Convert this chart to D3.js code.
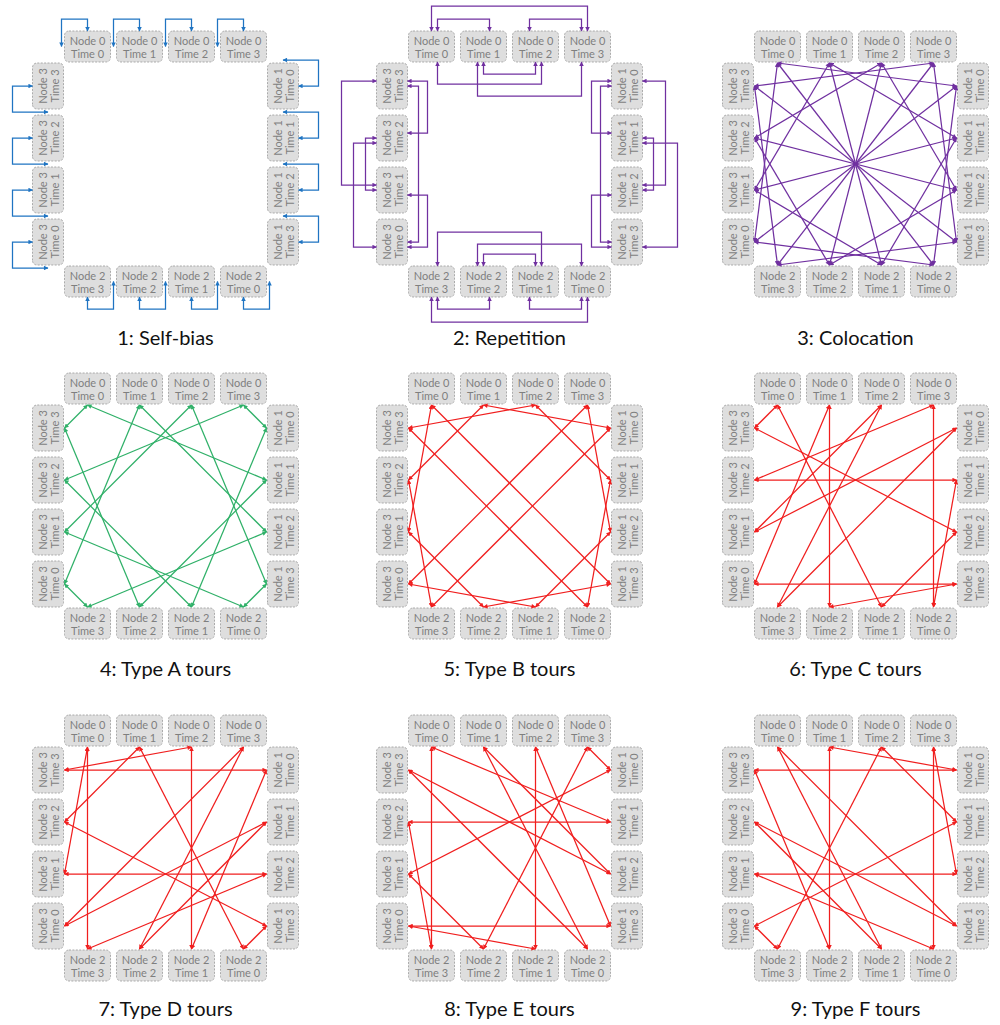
<!DOCTYPE html>
<html>
<head>
<meta charset="utf-8">
<script src="https://cdn.jsdelivr.net/npm/d3@7"></script>
<style>
  html, body { margin: 0; padding: 0; background: #ffffff; }
  svg { display: block; }
</style>
</head>
<body>
<svg id="chart" width="1000" height="1025"></svg>
<script>
// ---- data -------------------------------------------------------------
// Four nodes, four time slots. Node 0 sits on the top side, node 1 on the
// right, node 2 on the bottom and node 3 on the left; times run clockwise.
const nodeIds = [0, 1, 2, 3];
const timeIds = [0, 1, 2, 3];

const panelTitles = [
  "1: Self-bias", "2: Repetition", "3: Colocation",
  "4: Type A tours", "5: Type B tours", "6: Type C tours",
  "7: Type D tours", "8: Type E tours", "9: Type F tours"
];

// Edges are [fromNode, fromTime, toNode, toTime].
const selfBiasEdges = [
  [0,0,0,0],[0,1,0,1],[0,2,0,2],[0,3,0,3],
  [1,0,1,0],[1,1,1,1],[1,2,1,2],[1,3,1,3],
  [2,0,2,0],[2,1,2,1],[2,2,2,2],[2,3,2,3],
  [3,0,3,0],[3,1,3,1],[3,2,3,2],[3,3,3,3]
];

const repetitionEdges = [
  [0,0,0,1],[0,2,0,3],[0,0,0,3],[0,1,0,2],[0,0,0,2],[0,1,0,3],
  [1,0,1,1],[1,2,1,3],[1,0,1,3],[1,1,1,2],[1,0,1,2],[1,1,1,3],
  [2,0,2,1],[2,2,2,3],[2,0,2,3],[2,1,2,2],[2,0,2,2],[2,1,2,3],
  [3,0,3,1],[3,2,3,3],[3,0,3,3],[3,1,3,2],[3,0,3,2],[3,1,3,3]
];

const colocationEdges = [
  [0,0,1,0],[1,0,2,0],[2,0,3,0],[3,0,0,0],[0,0,2,0],[1,0,3,0],
  [0,1,1,1],[1,1,2,1],[2,1,3,1],[3,1,0,1],[0,1,2,1],[1,1,3,1],
  [0,2,1,2],[1,2,2,2],[2,2,3,2],[3,2,0,2],[0,2,2,2],[1,2,3,2],
  [0,3,1,3],[1,3,2,3],[2,3,3,3],[3,3,0,3],[0,3,2,3],[1,3,3,3]
];

const typeAEdges = [
  [0,0,1,1],[0,1,1,2],[0,2,1,3],[0,3,1,0],
  [1,0,2,1],[1,1,2,2],[1,2,2,3],[1,3,2,0],
  [2,0,3,1],[2,1,3,2],[2,2,3,3],[2,3,3,0],
  [3,0,0,1],[3,1,0,2],[3,2,0,3],[3,3,0,0]
];

const typeBEdges = [
  [0,0,3,1],[0,1,3,2],[0,2,3,3],[0,3,3,0],
  [3,0,2,1],[3,1,2,2],[3,2,2,3],[3,3,2,0],
  [2,0,1,1],[2,1,1,2],[2,2,1,3],[2,3,1,0],
  [1,0,0,1],[1,1,0,2],[1,2,0,3],[1,3,0,0]
];

const typeCEdges = [
  [0,0,2,1],[0,1,2,2],[0,2,2,3],[0,3,2,0],
  [2,0,1,1],[2,1,1,2],[2,2,1,3],[2,3,1,0],
  [1,0,3,1],[1,1,3,2],[1,2,3,3],[1,3,3,0],
  [3,0,0,1],[3,1,0,2],[3,2,0,3],[3,3,0,0]
];

const typeDEdges = [
  [0,0,3,1],[0,1,3,2],[0,2,3,3],[0,3,3,0],
  [3,0,1,1],[3,1,1,2],[3,2,1,3],[3,3,1,0],
  [1,0,2,1],[1,1,2,2],[1,2,2,3],[1,3,2,0],
  [2,0,0,1],[2,1,0,2],[2,2,0,3],[2,3,0,0]
];

const typeEEdges = [
  [0,0,1,1],[0,1,1,2],[0,2,1,3],[0,3,1,0],
  [1,0,3,1],[1,1,3,2],[1,2,3,3],[1,3,3,0],
  [3,0,2,1],[3,1,2,2],[3,2,2,3],[3,3,2,0],
  [2,0,0,1],[2,1,0,2],[2,2,0,3],[2,3,0,0]
];

const typeFEdges = [
  [0,0,2,1],[0,1,2,2],[0,2,2,3],[0,3,2,0],
  [2,0,3,1],[2,1,3,2],[2,2,3,3],[2,3,3,0],
  [3,0,1,1],[3,1,1,2],[3,2,1,3],[3,3,1,0],
  [1,0,0,1],[1,1,0,2],[1,2,0,3],[1,3,0,0]
];

// ---- layout & style ---------------------------------------------------
const panelCentersX = [165.5, 509.5, 855.5];
const panelCentersY = [164, 506, 848];
const titleY = [337, 668, 1008];

const colors = {
  blue: "#1f74c2",
  purple: "#7030a0",
  green: "#2fb068",
  red: "#f01e1e"
};

const panels = [
  { edges: selfBiasEdges,   style: "loop",     color: "blue" },
  { edges: repetitionEdges, style: "route",    color: "purple" },
  { edges: colocationEdges, style: "straight", color: "purple" },
  { edges: typeAEdges,      style: "straight", color: "green" },
  { edges: typeBEdges,      style: "straight", color: "red" },
  { edges: typeCEdges,      style: "straight", color: "red" },
  { edges: typeDEdges,      style: "straight", color: "red" },
  { edges: typeEEdges,      style: "straight", color: "red" },
  { edges: typeFEdges,      style: "straight", color: "red" }
];

// Side frames: u runs clockwise along the side, n points away from the centre.
const sideFrames = [
  { u: [1, 0],  n: [0, -1] },  // node 0, top
  { u: [0, 1],  n: [1, 0] },   // node 1, right
  { u: [-1, 0], n: [0, 1] },   // node 2, bottom
  { u: [0, -1], n: [-1, 0] }   // node 3, left
];

const INNER = 102;      // box edge facing the centre
const OUTER = 133;      // box edge facing outwards
const MID = (INNER + OUTER) / 2;
const HALF = 23;        // half box length along its side
const ANCHOR = 101;     // attachment radius for straight links

const along = d3.scalePoint().domain(timeIds).range([-78, 78]);

// Elbow routes for same-node links: [outward?, offsetA, offsetB, depth]
const routeHorizontalSide = {
  "0-1": [true, 6, 6, 12],  "2-3": [true, -6, -6, 12], "0-3": [true, 0, 0, 25],
  "1-2": [false, 0, 0, 12], "0-2": [false, 6, 6, 22],  "1-3": [false, -6, -6, 34]
};
const routeVerticalSide = {
  "0-1": [false, -5, -5, 20], "2-3": [false, 5, 5, 20], "0-3": [false, 0, 0, 11],
  "1-2": [true, 0, 0, 11],    "0-2": [true, -5, -5, 23], "1-3": [true, 5, 5, 35]
};

function pt(side, a, r) {
  const f = sideFrames[side];
  return [a * f.u[0] + r * f.n[0], a * f.u[1] + r * f.n[1]];
}

// ---- drawing ----------------------------------------------------------
const svg = d3.select("#chart");
const defs = svg.append("defs");

Object.entries(colors).forEach(([key, c]) => {
  defs.append("marker")
    .attr("id", "arrow-" + key)
    .attr("viewBox", "0 0 10 10")
    .attr("refX", 9)
    .attr("refY", 5)
    .attr("markerWidth", 5.5)
    .attr("markerHeight", 4.5)
    .attr("markerUnits", "userSpaceOnUse")
    .attr("orient", "auto-start-reverse")
    .append("path")
    .attr("d", "M0,0 L10,5 L0,10 z")
    .attr("fill", c);
});

const lineGen = d3.line();

panels.forEach((panel, idx) => {
  const cx = panelCentersX[idx % 3];
  const cy = panelCentersY[Math.floor(idx / 3)];
  const g = svg.append("g").attr("transform", `translate(${cx},${cy})`);

  // node boxes
  const cells = [];
  nodeIds.forEach(n => timeIds.forEach(t => cells.push({ n, t })));

  const box = g.selectAll("g.box").data(cells).join("g")
    .attr("class", "box")
    .attr("transform", d => {
      const p = pt(d.n, along(d.t), MID);
      return `translate(${p[0]},${p[1]})` + (d.n % 2 ? " rotate(-90)" : "");
    });

  box.append("rect")
    .attr("x", -HALF).attr("y", -(OUTER - INNER) / 2)
    .attr("width", HALF * 2).attr("height", OUTER - INNER)
    .attr("rx", 4.5).attr("ry", 4.5)
    .attr("fill", "#dedede")
    .attr("stroke", "#a3a3a3")
    .attr("stroke-width", 0.9)
    .attr("stroke-dasharray", "2,1.4");

  box.append("text")
    .attr("y", -5.6)
    .text(d => "Node " + d.n);
  box.append("text")
    .attr("y", 6.6)
    .text(d => "Time " + d.t);
  box.selectAll("text")
    .attr("text-anchor", "middle")
    .attr("dominant-baseline", "central")
    .attr("font-family", "Lato, 'Open Sans', sans-serif")
    .attr("font-size", 11)
    .attr("fill", "#7f7f7f");

  // links
  const color = colors[panel.color];
  const paths = panel.edges.map(e => {
    const [n1, t1, n2, t2] = e;
    if (panel.style === "loop") {
      const a = along(t1);
      const depth = n1 % 2 ? 20 : 12;
      return [
        pt(n1, a - HALF - 3, MID),
        pt(n1, a - HALF - 3, OUTER + depth),
        pt(n1, a, OUTER + depth),
        pt(n1, a, OUTER)
      ];
    }
    if (panel.style === "route") {
      const lo = Math.min(t1, t2), hi = Math.max(t1, t2);
      const table = n1 % 2 ? routeVerticalSide : routeHorizontalSide;
      const [out, sa, sb, depth] = table[lo + "-" + hi];
      const edge = out ? OUTER : INNER;
      const level = out ? OUTER + depth : INNER - depth;
      const aa = along(lo) + sa, ab = along(hi) + sb;
      return [pt(n1, aa, edge), pt(n1, aa, level), pt(n1, ab, level), pt(n1, ab, edge)];
    }
    return [pt(n1, along(t1), ANCHOR), pt(n2, along(t2), ANCHOR)];
  });

  g.selectAll("path.link").data(paths).join("path")
    .attr("class", "link")
    .attr("d", d => lineGen(d))
    .attr("fill", "none")
    .attr("stroke", color)
    .attr("stroke-width", 1.25)
    .attr("marker-start", `url(#arrow-${panel.color})`)
    .attr("marker-end", `url(#arrow-${panel.color})`);

  // caption
  svg.append("text")
    .attr("x", cx)
    .attr("y", titleY[Math.floor(idx / 3)])
    .attr("text-anchor", "middle")
    .attr("dominant-baseline", "central")
    .attr("font-family", "Lato, 'Open Sans', sans-serif")
    .attr("font-size", 20)
    .attr("fill", "#111111")
    .text(panelTitles[idx]);
});
</script>
</body>
</html>
